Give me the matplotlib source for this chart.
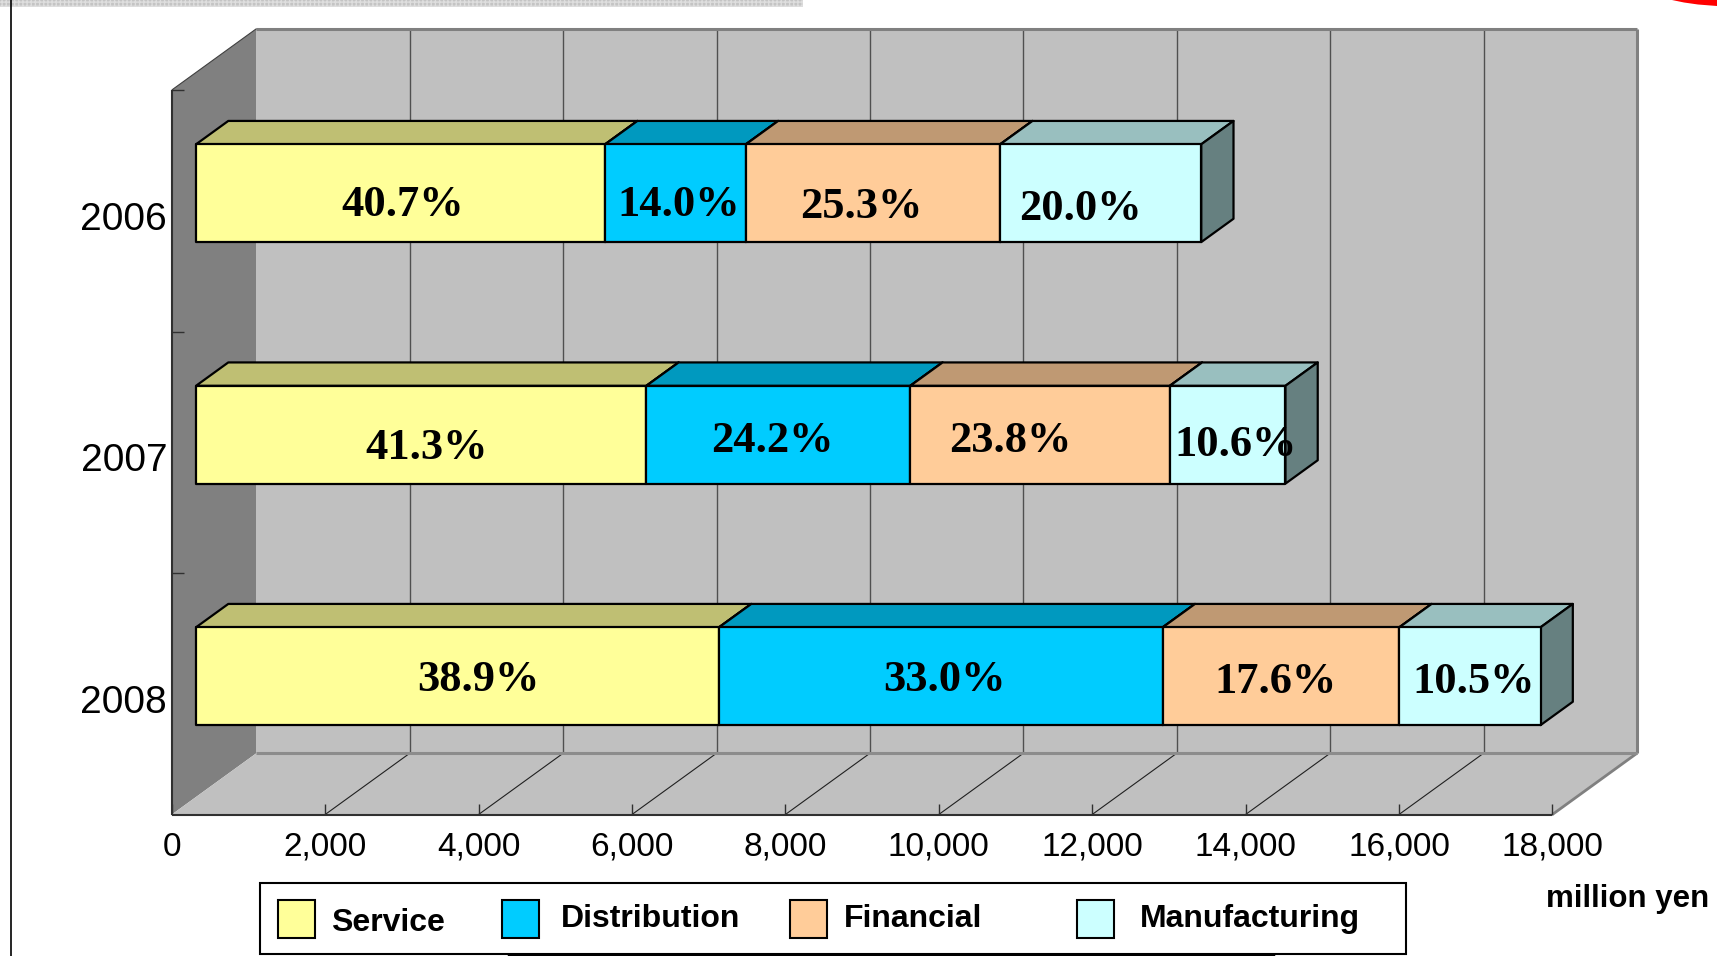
import matplotlib

matplotlib.use("Agg")
import matplotlib.pyplot as plt
from matplotlib.colors import to_rgb
from matplotlib.patches import Polygon, Rectangle

# Sales by sector, million yen
years = ["2006", "2007", "2008"]
sectors = ["Service", "Distribution", "Financial", "Manufacturing"]
service = [5334, 5872, 6819]
distribution = [1835, 3441, 5785]
financial = [3316, 3384, 3085]
manufacturing = [2621, 1507, 1841]
x_ticks = [0, 2000, 4000, 6000, 8000, 10000, 12000, 14000, 16000, 18000]

face_colors = ["#FFFF99", "#00CCFF", "#FFCC99", "#CCFFFF"]

# data-label nudges in pixels (right, down) from the front-face centre
label_dx = [[2, 3, -12, -20], [5, -6, -30, 8], [21, 4, -6, 4]]
label_dy = [[12, 12, 14, 16], [13, 6, 6, 10], [4, 4, 6, 6]]

# oblique 3-D box: depth runs up and to the right
X_MAX = 18000
DEPTH_X = 1104.0
DEPTH_Y = -0.254
BAR_FRONT, BAR_BACK = 0.286, 0.667
BAR_HEIGHT = 0.405
WALL_GRAY = "#C0C0C0"
SIDE_GRAY = "#808080"
EDGE = "#303030"
PX_PER_UNIT = 153.4 / 2000
PX_PER_ROW = 241.5


def proj(x, y, z):
    return (x + z * DEPTH_X, y + z * DEPTH_Y)


def shade(color, factor):
    r, g, b = to_rgb(color)
    return (r * factor, g * factor, b * factor)


def face(ax, corners, color, zorder, **kw):
    ax.add_patch(Polygon([proj(*c) for c in corners], closed=True,
                         facecolor=color, zorder=zorder, **kw))


def edge(ax, p0, p1, color, lw, zorder=1):
    (x0, y0), (x1, y1) = proj(*p0), proj(*p1)
    ax.plot([x0, x1], [y0, y1], color=color, lw=lw, zorder=zorder,
            solid_capstyle="butt")


fig = plt.figure(figsize=(17.17, 9.56), dpi=100)
ax = fig.add_axes([0, 0, 1, 1])
ax.set_xlim(-171.8 / PX_PER_UNIT, (1717 - 171.8) / PX_PER_UNIT)
ax.set_ylim(-0.5 + (956 - 90) / PX_PER_ROW, -0.5 - 90 / PX_PER_ROW)
ax.axis("off")

top, bottom = -0.5, len(years) - 0.5

# walls and floor
face(ax, [(0, top, 0), (0, top, 1), (0, bottom, 1), (0, bottom, 0)],
     SIDE_GRAY, 0.5, lw=0)
face(ax, [(0, top, 1), (X_MAX, top, 1), (X_MAX, bottom, 1), (0, bottom, 1)],
     WALL_GRAY, 0.5, lw=0)
face(ax, [(0, bottom, 0), (X_MAX, bottom, 0), (X_MAX, bottom, 1), (0, bottom, 1)],
     WALL_GRAY, 0.5, lw=0)

for x in x_ticks[1:-1]:
    edge(ax, (x, top, 1), (x, bottom, 1), "#505050", 1.0)
    edge(ax, (x, bottom, 0), (x, bottom, 1), "#202020", 0.8)

edge(ax, (0, top, 1), (X_MAX, top, 1), SIDE_GRAY, 2.2)
edge(ax, (X_MAX, top, 1), (X_MAX, bottom, 1), SIDE_GRAY, 2.2)
edge(ax, (X_MAX, bottom, 1), (X_MAX, bottom, 0), SIDE_GRAY, 2.0)
edge(ax, (0, bottom, 1), (X_MAX, bottom, 1), "#8c8c8c", 2.2)
edge(ax, (0, top, 0), (0, top, 1), "#404040", 0.8)
edge(ax, (0, top, 0), (0, bottom, 0), EDGE, 1.5)
edge(ax, (0, bottom, 0), (X_MAX, bottom, 0), EDGE, 1.5)

tick_len = 11 / PX_PER_ROW
for x in x_ticks:
    edge(ax, (x, bottom, 0), (x, bottom - tick_len, 0), EDGE, 1.0)
    ax.text(x, bottom + 0.135, f"{x:,}", ha="center", va="center",
            fontsize=24, family="Liberation Sans", zorder=10)
for y in [top, 0.5, 1.5]:
    edge(ax, (0, y, 0), (12 / PX_PER_UNIT, y, 0), EDGE, 1.0)

# stacked bars
series = [service, distribution, financial, manufacturing]
for i, year in enumerate(years):
    values = [s[i] for s in series]
    total = sum(values)
    y0, y1 = i - BAR_HEIGHT / 2, i + BAR_HEIGHT / 2
    left = 0
    for j, (value, color) in enumerate(zip(values, face_colors)):
        right = left + value
        kw = dict(edgecolor="black", lw=1.6, joinstyle="round")
        face(ax, [(left, y0, BAR_FRONT), (right, y0, BAR_FRONT),
                  (right, y0, BAR_BACK), (left, y0, BAR_BACK)],
             shade(color, 0.75), 3, **kw)
        face(ax, [(right, y0, BAR_FRONT), (right, y0, BAR_BACK),
                  (right, y1, BAR_BACK), (right, y1, BAR_FRONT)],
             shade(color, 0.5), 3, **kw)
        face(ax, [(left, y0, BAR_FRONT), (right, y0, BAR_FRONT),
                  (right, y1, BAR_FRONT), (left, y1, BAR_FRONT)],
             color, 3, **kw)
        tx, ty = proj((left + right) / 2, i, BAR_FRONT)
        tx += label_dx[i][j] / PX_PER_UNIT
        ty += label_dy[i][j] / PX_PER_ROW
        ax.text(tx, ty, f"{value / total * 100:.1f}%", ha="center",
                va="center", fontsize=32, fontweight="bold",
                family="Liberation Serif", zorder=10)
        left = right
    ax.text(-60, i + 0.038, year, ha="right", va="center", fontsize=28,
            family="Liberation Sans", zorder=10)

# legend, unit label and slide furniture in pixel space
deco = fig.add_axes([0, 0, 1, 1], zorder=5)
deco.set_xlim(0, 1717)
deco.set_ylim(956, 0)
deco.axis("off")
deco.patch.set_alpha(0)

deco.add_patch(Rectangle((259.5, 882.7), 1146.5, 71, facecolor="white",
                         edgecolor="black", lw=1.5))
legend_boxes = [278.2, 501.6, 789.6, 1076.5]
legend_texts = [330.7, 560.7, 844.3, 1140.0]
legend_y = [923, 919, 919, 919]
for name, color, bx, tx, ty in zip(sectors, face_colors, legend_boxes,
                                   legend_texts, legend_y):
    deco.add_patch(Rectangle((bx, 900.2), 37, 38, facecolor=color,
                             edgecolor="black", lw=1.5))
    deco.text(tx, ty, name, ha="left", va="center", fontsize=23,
              fontweight="bold", family="Liberation Sans")
deco.text(1546, 899, "million yen", ha="left", va="center", fontsize=22.5,
          fontweight="bold", family="Liberation Sans")

deco.plot([509, 1273], [955, 955], color="black", lw=2.5)
deco.plot([10.5, 10.5], [0, 956], color="black", lw=1.2)
deco.add_patch(Rectangle((0, 0), 803, 7, facecolor="#c4c4c4",
                         edgecolor="#dedede", hatch="++++", lw=0))
deco.add_patch(Polygon([(1672, 0), (1717, 0), (1717, 6), (1698, 4.5),
                        (1684, 2.5)], closed=True, facecolor="red", lw=0))

fig.savefig("out.png", dpi=100)
